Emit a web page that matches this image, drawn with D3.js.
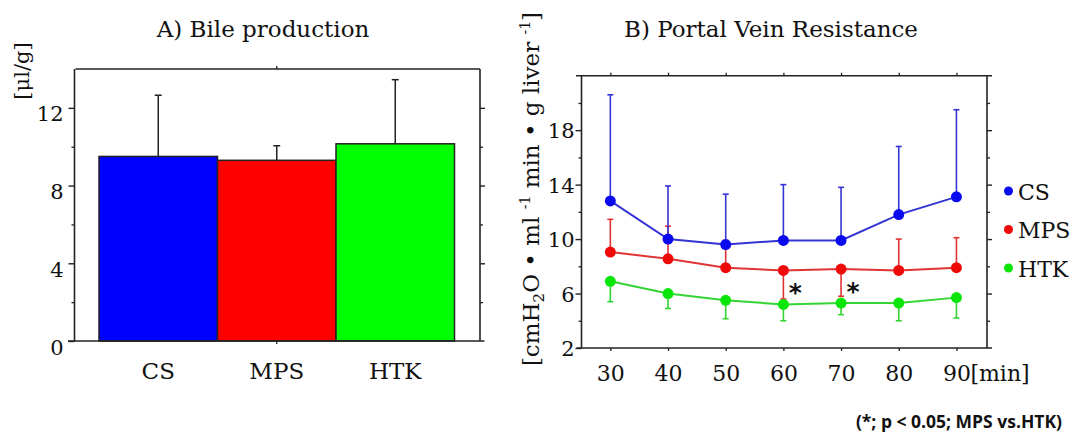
<!DOCTYPE html>
<html>
<head>
<meta charset="utf-8">
<script src="https://cdn.jsdelivr.net/npm/d3@7"></script>
<style>
  html, body { margin: 0; padding: 0; background: #fff; }
  svg { display: block; }
  text { font-family: "DejaVu Serif", serif; fill: #111; }
</style>
</head>
<body>
<svg id="chart" width="1080" height="435"></svg>
<script>
// ---- Panel A: bile production ----
const bileGroups = ["CS", "MPS", "HTK"];
const bileMean = [9.5, 9.3, 10.15];
const bileSD = [3.15, 0.75, 3.3];
const bileColors = ["#0000ff", "#ff0000", "#00ff00"];
const bileTicks = [0, 4, 8, 12];
const bileMinorTicks = [2, 6, 10];

// ---- Panel B: portal vein resistance ----
const times = [30, 40, 50, 60, 70, 80, 90];
const csMean  = [12.8, 10.0, 9.6, 9.9, 9.9, 11.8, 13.1];
const csSD    = [7.8, 3.9, 3.7, 4.1, 3.9, 5.0, 6.4];
const csDir   = [1, 1, 1, 1, 1, 1, 1];
const mpsMean = [9.05, 8.55, 7.9, 7.7, 7.8, 7.7, 7.9];
const mpsSD   = [2.4, 2.4, 2.0, 2.1, 2.0, 2.3, 2.2];
const mpsDir  = [1, 1, 1, -1, -1, 1, 1];
const htkMean = [6.9, 6.0, 5.5, 5.2, 5.3, 5.3, 5.7];
const htkSD   = [1.5, 1.1, 1.35, 1.2, 0.85, 1.3, 1.5];
const htkDir  = [-1, -1, -1, -1, -1, -1, -1];
const seriesNames = ["CS", "MPS", "HTK"];
const seriesLine = ["#3434d4", "#e03434", "#34d434"];
const seriesDot = ["#0a0aef", "#ef0a0a", "#0ae60a"];
const pvrTicks = [2, 6, 10, 14, 18];
const pvrMinorTicks = [4, 8, 12, 16, 20];
const sigTimes = [60, 70];

const svg = d3.select("#chart");

// ================= Panel A =================
const A = { left: 74.5, right: 480, top: 69, bottom: 341 };
const yA = d3.scaleLinear().domain([0, 14]).range([A.bottom, A.top]);
const xA = d3.scaleBand().domain(bileGroups).range([99, 454.5]).paddingInner(0).paddingOuter(0);
const gA = svg.append("g");

// bars
gA.selectAll("rect.bar").data(bileGroups).join("rect")
  .attr("x", d => xA(d))
  .attr("width", xA.bandwidth())
  .attr("y", (d, i) => yA(bileMean[i]))
  .attr("height", (d, i) => yA(0) - yA(bileMean[i]))
  .attr("fill", (d, i) => bileColors[i])
  .attr("stroke", "#222").attr("stroke-width", 1.5);

// error bars (upper only)
gA.selectAll("g.err").data(bileGroups).join("g").each(function (d, i) {
  const cx = xA(d) + xA.bandwidth() / 2;
  const g = d3.select(this);
  g.append("line").attr("x1", cx).attr("x2", cx)
    .attr("y1", yA(bileMean[i])).attr("y2", yA(bileMean[i] + bileSD[i]))
    .attr("stroke", "#222").attr("stroke-width", 1.5);
  g.append("line").attr("x1", cx - 3.5).attr("x2", cx + 3.5)
    .attr("y1", yA(bileMean[i] + bileSD[i])).attr("y2", yA(bileMean[i] + bileSD[i]))
    .attr("stroke", "#222").attr("stroke-width", 1.5);
});

// frame
const frameA = gA.append("g").attr("stroke", "#222").attr("stroke-width", 1.6).attr("fill", "none");
frameA.append("line").attr("x1", A.left).attr("x2", A.left).attr("y1", A.top).attr("y2", A.bottom);
frameA.append("line").attr("x1", A.right).attr("x2", A.right).attr("y1", A.top).attr("y2", A.bottom);
frameA.append("line").attr("x1", A.left + 1).attr("x2", A.right).attr("y1", A.top).attr("y2", A.top);
frameA.append("line").attr("x1", 68).attr("x2", 484.5).attr("y1", A.bottom).attr("y2", A.bottom);

// y axes left and right
const axLeftA = d3.axisLeft(yA).tickValues(bileTicks).tickSize(6).tickSizeOuter(0).tickPadding(5);
const gyA = gA.append("g").attr("transform", `translate(${A.left},0)`).call(axLeftA);
gyA.select(".domain").remove();
gyA.selectAll(".tick line").attr("stroke", "#222").attr("stroke-width", 1.4);
gyA.selectAll(".tick text").attr("font-size", 21).attr("dy", "0.62em").attr("fill", "#111")
  .style("font-family", "DejaVu Serif");
gA.append("g").attr("transform", `translate(${A.left},0)`)
  .call(d3.axisLeft(yA).tickValues(bileMinorTicks).tickSize(3).tickFormat(""))
  .call(g => g.select(".domain").remove())
  .selectAll(".tick line").attr("stroke", "#222").attr("stroke-width", 1.3);
gA.append("g").attr("transform", `translate(${A.right},0)`)
  .call(d3.axisRight(yA).tickValues(bileTicks.filter(v => v > 0)).tickSize(5).tickFormat(""))
  .call(g => g.select(".domain").remove())
  .selectAll(".tick line").attr("stroke", "#222").attr("stroke-width", 1.4);
gA.append("g").attr("transform", `translate(${A.right},0)`)
  .call(d3.axisRight(yA).tickValues(bileMinorTicks).tickSize(3).tickFormat(""))
  .call(g => g.select(".domain").remove())
  .selectAll(".tick line").attr("stroke", "#222").attr("stroke-width", 1.3);

// category axis
const gxA = gA.append("g").attr("transform", `translate(0,${A.bottom})`)
  .call(d3.axisBottom(xA).tickSize(0).tickPadding(22));
gxA.select(".domain").remove();
gxA.selectAll(".tick text").attr("font-size", 23).attr("fill", "#111").style("font-family", "DejaVu Serif");
// center marks on top and bottom
const midA = xA("MPS") + xA.bandwidth() / 2;
gA.append("line").attr("x1", midA).attr("x2", midA).attr("y1", A.bottom).attr("y2", A.bottom + 3).attr("stroke", "#222").attr("stroke-width", 1.3);
gA.append("line").attr("x1", midA).attr("x2", midA).attr("y1", A.top).attr("y2", A.top - 3).attr("stroke", "#222").attr("stroke-width", 1.3);

gA.append("text").attr("x", 263).attr("y", 37).attr("text-anchor", "middle")
  .attr("font-size", 23).text("A) Bile production");
gA.append("text").attr("transform", "translate(29,71) rotate(-90)").attr("text-anchor", "middle")
  .attr("font-size", 21).text("[μl/g]");

// ================= Panel B =================
const B = { left: 581.5, right: 987, top: 75.7, bottom: 348 };
const xB = d3.scaleLinear().domain([25, 95.3]).range([B.left, B.right]);
const yB = d3.scaleLinear().domain([2, 22]).range([B.bottom, B.top]);
const gB = svg.append("g");

const frameB = gB.append("g").attr("stroke", "#222").attr("stroke-width", 1.6).attr("fill", "none");
frameB.append("line").attr("x1", B.left).attr("x2", B.left).attr("y1", B.top).attr("y2", B.bottom);
frameB.append("line").attr("x1", B.right).attr("x2", B.right).attr("y1", B.top).attr("y2", B.bottom);
frameB.append("line").attr("x1", 576).attr("x2", 992).attr("y1", B.top).attr("y2", B.top);
frameB.append("line").attr("x1", 576.5).attr("x2", 992).attr("y1", B.bottom).attr("y2", B.bottom);

// y ticks
const gyB = gB.append("g").attr("transform", `translate(${B.left},0)`)
  .call(d3.axisLeft(yB).tickValues(pvrTicks).tickSize(6).tickPadding(1));
gyB.select(".domain").remove();
gyB.selectAll(".tick line").attr("stroke", "#222").attr("stroke-width", 1.4);
gyB.selectAll(".tick text").attr("font-size", 21).attr("dy", "0.36em").attr("fill", "#111").style("font-family", "DejaVu Serif");
gB.append("g").attr("transform", `translate(${B.left},0)`)
  .call(d3.axisLeft(yB).tickValues(pvrMinorTicks).tickSize(3).tickFormat(""))
  .call(g => g.select(".domain").remove())
  .selectAll(".tick line").attr("stroke", "#222").attr("stroke-width", 1.3);
gB.append("g").attr("transform", `translate(${B.right},0)`)
  .call(d3.axisRight(yB).tickValues(pvrTicks.filter(v => v > 2)).tickSize(5).tickFormat(""))
  .call(g => g.select(".domain").remove())
  .selectAll(".tick line").attr("stroke", "#222").attr("stroke-width", 1.4);
gB.append("g").attr("transform", `translate(${B.right},0)`)
  .call(d3.axisRight(yB).tickValues(pvrMinorTicks).tickSize(3).tickFormat(""))
  .call(g => g.select(".domain").remove())
  .selectAll(".tick line").attr("stroke", "#222").attr("stroke-width", 1.3);

// x ticks
const gxB = gB.append("g").attr("transform", `translate(0,${B.bottom})`)
  .call(d3.axisBottom(xB).tickValues(times).tickSize(3).tickPadding(14).tickFormat(d3.format("d")));
gxB.select(".domain").remove();
gxB.selectAll(".tick line").attr("stroke", "#222").attr("stroke-width", 1.3);
gxB.selectAll(".tick text").attr("font-size", 22).attr("fill", "#111").style("font-family", "DejaVu Serif");
gB.append("g").attr("transform", `translate(0,${B.top})`)
  .call(d3.axisTop(xB).tickValues(times).tickSize(3).tickFormat(""))
  .call(g => g.select(".domain").remove())
  .selectAll(".tick line").attr("stroke", "#222").attr("stroke-width", 1.3);
gB.append("text").attr("x", xB(90) + 14).attr("y", B.bottom + 32.5).attr("font-size", 22).text("[min]");

// series
const means = [csMean, mpsMean, htkMean];
const sds = [csSD, mpsSD, htkSD];
const dirs = [csDir, mpsDir, htkDir];
const line = d3.line().x(d => xB(d.t)).y(d => yB(d.v));

// error bars first (drawn beneath the markers), lower series last
[2, 1, 0].forEach(s => {
  const pts = times.map((t, i) => ({ t, v: means[s][i], e: means[s][i] + dirs[s][i] * sds[s][i] }));
  const g = gB.append("g").attr("stroke", seriesLine[s]).attr("stroke-width", 1.6);
  g.selectAll("line.v").data(pts).join("line")
    .attr("x1", d => xB(d.t)).attr("x2", d => xB(d.t))
    .attr("y1", d => yB(d.v)).attr("y2", d => yB(d.e));
  g.selectAll("line.c").data(pts).join("line")
    .attr("x1", d => xB(d.t) - 3).attr("x2", d => xB(d.t) + 3)
    .attr("y1", d => yB(d.e)).attr("y2", d => yB(d.e));
});
[2, 1, 0].forEach(s => {
  const pts = times.map((t, i) => ({ t, v: means[s][i] }));
  gB.append("path").datum(pts).attr("d", line)
    .attr("fill", "none").attr("stroke", seriesLine[s]).attr("stroke-width", 2);
  gB.append("g").selectAll("circle").data(pts).join("circle")
    .attr("cx", d => xB(d.t)).attr("cy", d => yB(d.v)).attr("r", 5.5)
    .attr("fill", seriesDot[s]);
});

// significance marks between MPS and HTK
gB.selectAll("text.sig").data(sigTimes).join("text")
  .attr("x", t => xB(t) + 12)
  .attr("y", t => { const i = times.indexOf(t); return yB((mpsMean[i] + htkMean[i]) / 2) + 14; })
  .attr("text-anchor", "middle").attr("font-size", 25).attr("font-weight", "bold")
  .style("font-family", "DejaVu Sans")
  .text("*");

// legend
const legend = gB.append("g");
seriesNames.forEach((n, i) => {
  const y = 191 + i * 38.5;
  legend.append("circle").attr("cx", 1008.5).attr("cy", y).attr("r", 4.5).attr("fill", seriesDot[i]);
  legend.append("text").attr("x", 1018).attr("y", y + 8.5).attr("font-size", 22).text(n);
});

gB.append("text").attr("x", 771).attr("y", 37).attr("text-anchor", "middle")
  .attr("font-size", 23).text("B) Portal Vein Resistance");

// rotated unit label
const yl = gB.append("text").attr("transform", "translate(539,189) rotate(-90)")
  .attr("text-anchor", "middle").attr("font-size", 23);
yl.append("tspan").text("[cmH");
yl.append("tspan").attr("font-size", 15).attr("dy", 5).text("2");
yl.append("tspan").attr("dy", -5).text("O • ml ");
yl.append("tspan").attr("font-size", 14).attr("dy", -9).text("-1");
yl.append("tspan").attr("dy", 9).text(" min • g liver ");
yl.append("tspan").attr("font-size", 14).attr("dy", -9).text("-1");
yl.append("tspan").attr("dy", 9).text("]");

// footnote
svg.append("text").attr("x", 1062).attr("y", 428).attr("text-anchor", "end")
  .attr("font-size", 17.5).attr("font-weight", "bold")
  .style("font-family", "'Open Sans', 'Liberation Sans', sans-serif")
  .text("(*; p < 0.05; MPS vs.HTK)");
</script>
</body>
</html>
